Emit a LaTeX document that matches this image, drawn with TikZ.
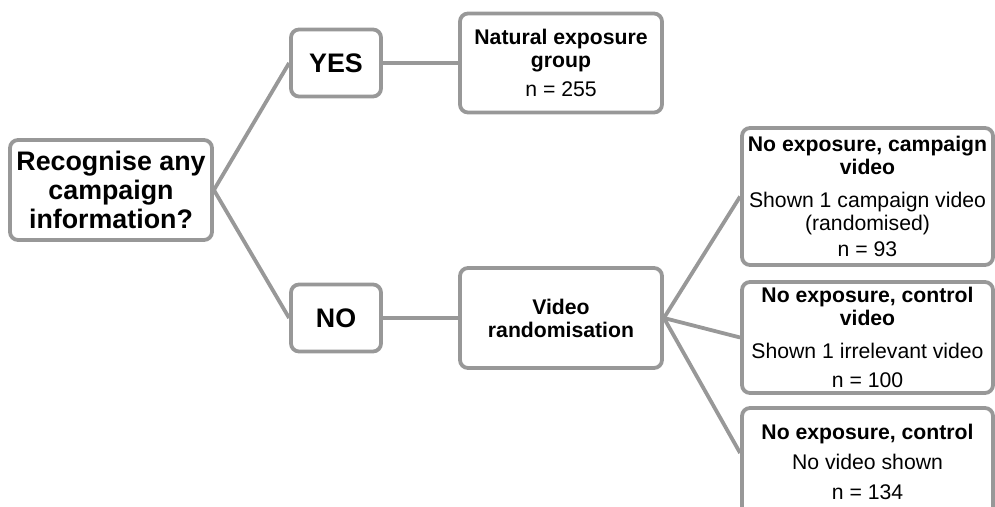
\documentclass[tikz,border=0pt]{standalone}
\usepackage{fontspec}
\setmainfont{Liberation Sans}
\usetikzlibrary{calc}
\definecolor{lg}{RGB}{152,152,152}
\begin{document}
\begin{tikzpicture}[x=1pt,y=-1pt,
  box/.style={draw=lg, line width=3.8pt, rounded corners=8pt, fill=white, align=center, inner sep=0pt, text=black},
  link/.style={draw=lg, line width=3.8pt},
  big/.style={font=\fontsize{26.8}{29}\selectfont\bfseries},
  small/.style={font=\fontsize{21.2}{23}\selectfont}]
\useasboundingbox (0,0) rectangle (995,506);
\clip (0,0) rectangle (995,506);

\node[box, big, minimum width=202pt, minimum height=100pt] (rec) at (111,190) {Recognise any\\campaign\\information?};
\node[box, big, minimum width=90pt, minimum height=67pt] (yes) at (336,63) {YES};
\node[box, big, minimum width=90pt, minimum height=67pt] (no) at (336,318) {NO};
\node[box, small, minimum width=202pt, minimum height=99pt] (nat) at (561,63) {\textbf{Natural exposure}\\\textbf{group}\\[6pt]n = 255};
\node[box, small, minimum width=202pt, minimum height=100pt] (vid) at (561,318) {\textbf{Video}\\\textbf{randomisation}};
\node[box, small, minimum width=251pt, minimum height=137pt] (c1) at (867.5,196.5) {\textbf{No exposure, campaign}\\\textbf{video}\\[10pt]Shown 1 campaign video\\(randomised)\\[3pt]n = 93};
\node[box, small, minimum width=251pt, minimum height=111pt] (c2) at (867.5,337.5) {\textbf{No exposure, control}\\\textbf{video}\\[10pt]Shown 1 irrelevant video\\[6pt]n = 100};
\node[box, small, minimum width=251pt, minimum height=107pt] (c3) at (867.5,461.5) {\textbf{No exposure, control}\\[7pt]No video shown\\[7pt]n = 134};

\draw[link] (rec.east) -- (yes.west);
\draw[link] (rec.east) -- (no.west);
\draw[link] (yes.east) -- (nat.west);
\draw[link] (no.east) -- (vid.west);
\draw[link] (vid.east) -- (c1.west);
\draw[link] (vid.east) -- (c2.west);
\draw[link] (vid.east) -- ([yshift=8.5pt]c3.west);
\end{tikzpicture}
\end{document}
